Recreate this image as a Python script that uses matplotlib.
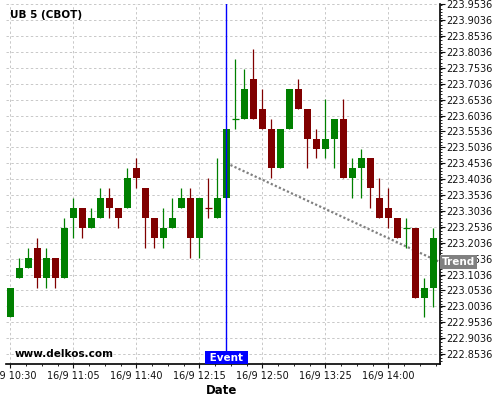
import matplotlib
matplotlib.use("Agg")
import matplotlib.pyplot as plt
from matplotlib.ticker import MultipleLocator, FixedLocator, FuncFormatter
import numpy as np
import pandas as pd

# ---------------- data ----------------
title = "UB 5 (CBOT)"
times = [t.strftime("16/9 %H:%M") for t in pd.date_range("2000-01-01 10:30", periods=48, freq="5min")]

opens = [222.96875, 223.09375, 223.125, 223.1875, 223.09375, 223.15625, 223.09375, 223.28125,
         223.3125, 223.25, 223.28125, 223.34375, 223.3125, 223.3125, 223.4375, 223.375,
         223.28125, 223.21875, 223.25, 223.3125, 223.34375, 223.21875, 223.3125, 223.28125,
         223.34375, 223.59375, 223.59375, 223.71875, 223.625, 223.5625, 223.4375, 223.5625,
         223.6875, 223.625, 223.53125, 223.5, 223.53125, 223.59375, 223.40625, 223.4375,
         223.46875, 223.34375, 223.3125, 223.28125, 223.25, 223.25, 223.03125, 223.0625]
highs = [223.0625, 223.15625, 223.1875, 223.21875, 223.1875, 223.15625, 223.28125, 223.34375,
         223.3125, 223.3125, 223.375, 223.375, 223.3125, 223.4375, 223.46875, 223.375,
         223.28125, 223.3125, 223.34375, 223.375, 223.375, 223.34375, 223.40625, 223.46875,
         223.5625, 223.78125, 223.75, 223.8125, 223.6875, 223.59375, 223.5625, 223.6875,
         223.71875, 223.625, 223.5625, 223.65625, 223.59375, 223.65625, 223.46875, 223.5,
         223.46875, 223.40625, 223.375, 223.28125, 223.28125, 223.25, 223.09375, 223.25]
lows = [222.96875, 223.09375, 223.125, 223.0625, 223.0625, 223.0625, 223.09375, 223.21875,
        223.21875, 223.25, 223.28125, 223.28125, 223.25, 223.3125, 223.375, 223.1875,
        223.1875, 223.1875, 223.25, 223.3125, 223.15625, 223.15625, 223.28125, 223.28125,
        223.34375, 223.5625, 223.59375, 223.59375, 223.5625, 223.40625, 223.4375, 223.5625,
        223.625, 223.4375, 223.46875, 223.46875, 223.4375, 223.40625, 223.34375, 223.34375,
        223.3125, 223.28125, 223.25, 223.21875, 223.1875, 223.03125, 222.96875, 223.0]
closes = [223.0625, 223.125, 223.15625, 223.09375, 223.15625, 223.09375, 223.25, 223.3125,
          223.25, 223.28125, 223.34375, 223.3125, 223.28125, 223.40625, 223.40625, 223.28125,
          223.21875, 223.25, 223.28125, 223.34375, 223.21875, 223.34375, 223.3125, 223.34375,
          223.5625, 223.59375, 223.6875, 223.59375, 223.5625, 223.4375, 223.5625, 223.6875,
          223.625, 223.53125, 223.5, 223.53125, 223.59375, 223.40625, 223.4375, 223.46875,
          223.375, 223.28125, 223.28125, 223.21875, 223.25, 223.03125, 223.0625, 223.21875]

event_time = "16/9 12:30"
trend_start_price = 223.454
trend_end_price = 223.143

y_ticks = [222.8536, 222.9036, 222.9536, 223.0036, 223.0536, 223.1036, 223.1536, 223.2036,
           223.2536, 223.3036, 223.3536, 223.4036, 223.4536, 223.5036, 223.5536, 223.6036,
           223.6536, 223.7036, 223.7536, 223.8036, 223.8536, 223.9036, 223.9536]
x_tick_labels = ["16/9 10:30", "16/9 11:05", "16/9 11:40", "16/9 12:15",
                 "16/9 12:50", "16/9 13:25", "16/9 14:00"]

# ---------------- style ----------------
GREEN = "#008000"
RED = "#800000"
fig = plt.figure(figsize=(5, 4), dpi=100)
ax = fig.add_axes([0.011, 0.0893, 0.8684, 0.9])

x = np.arange(len(times))
o = np.array(opens); h = np.array(highs); l = np.array(lows); c = np.array(closes)
prev_c = np.concatenate([[c[0]], c[:-1]])
up = (c > o) | ((c == o) & (c >= prev_c))
colors = np.array([GREEN if u else RED for u in up])

width = 0.78
ax.vlines(x, l, h, colors=colors, linewidth=0.9, zorder=3)
body_h = np.abs(c - o)
is_doji = body_h == 0
ax.bar(x[~is_doji], body_h[~is_doji], bottom=np.minimum(o, c)[~is_doji], width=width,
       color=colors[~is_doji], linewidth=0, zorder=4)
ax.hlines(c[is_doji], x[is_doji] - width / 2, x[is_doji] + width / 2,
          colors=colors[is_doji], linewidth=0.9, zorder=4)

xmin, xmax = -0.55, 47.7
ax.set_xlim(xmin, xmax)
ax.set_ylim(222.8212, 223.9537)

# trend line
ev = times.index(event_time)
ax.plot([ev, xmax], [trend_start_price, trend_end_price], color="#808080",
        linestyle=(0, (1, 1)), linewidth=1.6, zorder=2, clip_on=False)

# event line
ax.axvline(ev, color="#0000ff", linewidth=1, zorder=6)
ax.annotate(" Event ", xy=(ev, 0), xycoords=("data", "axes fraction"), xytext=(0, 1.2),
            textcoords="offset points", ha="center", va="bottom", color="white",
            fontsize=7.5, fontweight="bold", zorder=7,
            bbox=dict(boxstyle="square,pad=0.15", fc="#0000ff", ec="none"))
# trend label
ax.annotate("Trend", xy=(1, trend_end_price), xycoords=("axes fraction", "data"),
            xytext=(1.6, 0), textcoords="offset points", ha="left", va="center",
            color="white", fontsize=7.5, fontweight="bold", zorder=10,
            annotation_clip=False,
            bbox=dict(boxstyle="square,pad=0.2", fc="#808080", ec="none"))

# axes / ticks
for s in ["top", "left"]:
    ax.spines[s].set_visible(False)
ax.spines["right"].set_linewidth(1.2)
ax.spines["bottom"].set_linewidth(1.2)
ax.yaxis.tick_right()
ax.set_yticks(y_ticks)
ax.yaxis.set_major_formatter(FuncFormatter(lambda v, p: f"{v:.4f}"))
ax.yaxis.set_minor_locator(MultipleLocator(0.01))
x_pos = [times.index(t) for t in x_tick_labels]
ax.set_xticks(x_pos)
ax.set_xticklabels(x_tick_labels)
ax.xaxis.set_minor_locator(FixedLocator(np.arange(0, xmax, 1.75)))
ax.tick_params(axis="y", which="major", length=3.4, width=0.8, pad=1, labelsize=7, colors="#111111")
ax.tick_params(axis="y", which="minor", length=1.5, width=0.6)
ax.tick_params(axis="x", which="major", length=3, width=0.8, pad=2, labelsize=7, colors="#111111")
ax.tick_params(axis="x", which="minor", length=1.7, width=0.6)
ax.grid(True, which="major", color="#c8c8c8", linestyle=(0, (2.5, 2.5)), linewidth=0.7)
ax.set_axisbelow(True)

fig.text(10 / 500, 1 - 15 / 400, title, fontsize=7.5, fontweight="bold", va="center", ha="left")
fig.text(15 / 500, 1 - 354 / 400, "www.delkos.com", fontsize=7.5, fontweight="bold",
         va="center", ha="left")
fig.text(222 / 500, 1 - 390 / 400, "Date", fontsize=8.5, fontweight="bold", va="center", ha="center")

fig.savefig("out.png", dpi=100)
